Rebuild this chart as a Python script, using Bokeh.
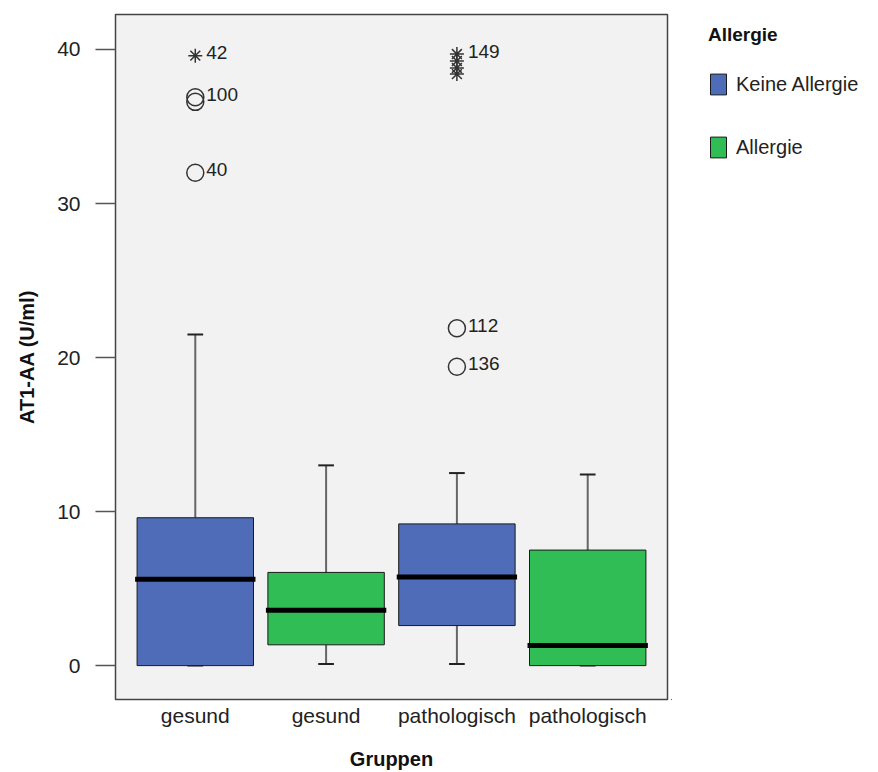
from bokeh.plotting import figure
from bokeh.models import ColumnDataSource, Legend, LegendItem, FixedTicker
from bokeh.layouts import row
from bokeh.embed import file_html
from bokeh.resources import INLINE
from bokeh.core.properties import value

# ---- data ----
gruppen = ["gesund", "gesund", "pathologisch", "pathologisch"]
allergie = ["Keine Allergie", "Allergie", "Keine Allergie", "Allergie"]
q1 = [0.0, 1.35, 2.6, 0.0]
median = [5.6, 3.6, 5.75, 1.3]
q3 = [9.6, 6.05, 9.2, 7.5]
whisker_low = [0.0, 0.1, 0.1, 0.0]
whisker_high = [21.5, 13.0, 12.5, 12.4]

outlier_box = [1, 1, 1, 3, 3]
outlier_val = [32.0, 36.6, 36.9, 21.9, 19.4]
extreme_box = [1, 3, 3, 3, 3]
extreme_val = [39.6, 39.7, 39.25, 38.8, 38.4]
label_box = [1, 1, 1, 3, 3, 3]
label_val = [39.6, 36.9, 32.0, 39.7, 21.9, 19.4]
label_text = ["42", "100", "40", "149", "112", "136"]

y_ticks = [0, 10, 20, 30, 40]

# ---- styling ----
FONT = "Liberation Sans"
colors = {"Keine Allergie": "#4e6cb8", "Allergie": "#31bd55"}
BOX_W = 0.89
CAP_W = 0.12

xpos = list(range(1, len(gruppen) + 1))

src = ColumnDataSource(dict(
    x=xpos, q1=q1, q3=q3, med=median, lo=whisker_low, hi=whisker_high,
    color=[colors[a] for a in allergie],
    med_x0=[x - BOX_W / 2 - 0.015 for x in xpos],
    med_x1=[x + BOX_W / 2 + 0.015 for x in xpos],
    cap_x0=[x - CAP_W / 2 for x in xpos],
    cap_x1=[x + CAP_W / 2 for x in xpos],
))

p = figure(width=671, height=772, x_range=(0.39, 4.61), y_range=(-2.2, 42.27),
           output_backend="svg", toolbar_location=None,
           min_border_left=115, min_border_right=4, min_border_top=14,
           min_border_bottom=70)

p.background_fill_color = "#f2f2f2"
p.border_fill_color = "white"
p.outline_line_color = "#444444"
p.outline_line_width = 1.5
p.grid.visible = False

# whiskers
p.segment(x0="x", y0="q3", x1="x", y1="hi", source=src, line_color="#666666", line_width=2)
p.segment(x0="x", y0="q1", x1="x", y1="lo", source=src, line_color="#666666", line_width=2)
p.segment(x0="cap_x0", y0="hi", x1="cap_x1", y1="hi", source=src, line_color="#222222", line_width=2)
p.segment(x0="cap_x0", y0="lo", x1="cap_x1", y1="lo", source=src, line_color="#222222", line_width=2)

# boxes
p.vbar(x="x", width=BOX_W, bottom="q1", top="q3", source=src,
       fill_color="color", line_color="#1a1a1a", line_width=1)
# medians
p.segment(x0="med_x0", y0="med", x1="med_x1", y1="med", source=src,
          line_color="black", line_width=5, line_cap="butt")

# outliers
p.scatter(x=outlier_box, y=outlier_val, marker="circle", size=17,
          fill_color=None, line_color="#333333", line_width=1.5)
p.scatter(x=extreme_box, y=extreme_val, marker="asterisk", size=14,
          line_color="#333333", line_width=1.5)
p.text(x=label_box, y=label_val, text=label_text, x_offset=11, y_offset=-3,
       text_font=value(FONT), text_font_size="19px", text_color="#222222",
       text_baseline="alphabetic", text_align="left")

# axes
yax = p.yaxis[0]
yax.ticker = FixedTicker(ticks=y_ticks)
yax.axis_label = "AT1-AA (U/ml)"
yax.axis_label_text_font = FONT
yax.axis_label_text_font_style = "bold"
yax.axis_label_text_font_size = "20px"
yax.axis_label_text_color = "#111111"
yax.axis_label_standoff = 16
yax.major_label_text_font = FONT
yax.major_label_text_font_size = "21px"
yax.major_label_text_color = "#222222"
yax.major_label_standoff = 15
yax.major_tick_out = 20
yax.major_tick_in = 0
yax.major_tick_line_color = "#555555"
yax.major_tick_line_width = 1.5
yax.minor_tick_line_color = None
yax.axis_line_color = None

xax = p.xaxis[0]
xax.ticker = FixedTicker(ticks=xpos)
xax.major_label_overrides = {x: g for x, g in zip(xpos, gruppen)}
xax.axis_label = "Gruppen"
xax.axis_label_text_font = FONT
xax.axis_label_text_font_style = "bold"
xax.axis_label_text_font_size = "20px"
xax.axis_label_text_color = "#111111"
xax.axis_label_standoff = 18
xax.major_label_text_font = FONT
xax.major_label_text_font_size = "21px"
xax.major_label_text_color = "#222222"
xax.major_label_standoff = 4
xax.major_tick_out = 0
xax.major_tick_in = 0
xax.major_tick_line_color = None
xax.minor_tick_line_color = None
xax.axis_line_color = None

# ---- legend panel (separate figure to the right) ----
lf = figure(width=207, height=772, x_range=(100, 101), y_range=(100, 101),
            output_backend="svg", toolbar_location=None,
            x_axis_location=None, y_axis_location=None,
            min_border=0, min_border_left=0, min_border_right=0,
            min_border_top=0, min_border_bottom=0)
lf.outline_line_color = None
lf.background_fill_color = "white"
lf.border_fill_color = "white"
lf.grid.visible = False
lbox = lf.vbar(x="x", width=BOX_W, bottom="q1", top="q3", source=src,
               fill_color="color", line_color="#1a1a1a", line_width=1)

items = []
seen = []
for i, a in enumerate(allergie):
    if a not in seen:
        seen.append(a)
        items.append(LegendItem(label=a, renderers=[lbox], index=i))

legend = Legend(items=items, title="Allergie", location=(37, 539),
                margin=0, padding=0, spacing=37,
                glyph_width=20, glyph_height=26, label_standoff=8,
                label_height=26,
                label_text_font=FONT, label_text_font_size="20px",
                label_text_color="#222222",
                title_text_font=FONT, title_text_font_style="bold",
                title_text_font_size="19px", title_text_color="#111111",
                title_standoff=25,
                border_line_color=None, background_fill_color=None)
lf.add_layout(legend, "center")

layout = row(p, lf, spacing=0)
open("out.html", "w").write(file_html(layout, INLINE))
